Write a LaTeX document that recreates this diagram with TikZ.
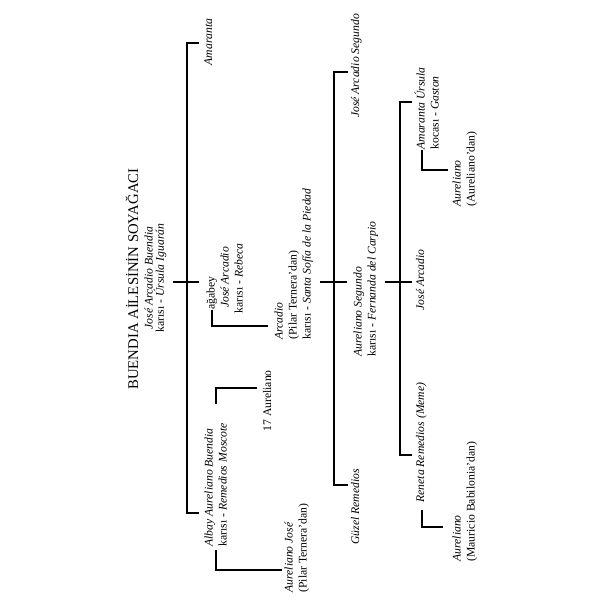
\documentclass[tikz,border=0pt]{standalone}
\usepackage{fontspec}
\setmainfont{Liberation Serif}
\usetikzlibrary{calc,positioning}

\begin{document}
\begin{tikzpicture}[line width=0.75pt,
    person/.style={rotate=90,inner sep=0pt,align=left,font=\fontsize{8.3}{10}\selectfont},
    couple/.style={person,align=center}]
  \useasboundingbox (0,0) rectangle (15,15);
  % titel und eltern
  \node[person,anchor=base,font=\fontsize{10.5}{12}\selectfont] (title) at (3.45,8.025) {BUENDIA AİLESİNİN SOYAĞACI};
  \node[couple,anchor=north] (parents) at (3.6,8.05) {\textit{José Arcadio Buendia}\\[-2pt] karısı - \textit{Úrsula Iguarán}};
  % erste generation
  \node[person,anchor=north] (amaranta) at (5.1,13.95) {\textit{Amaranta}};
  \node[person,anchor=north west] (josearcadio) at (5.15,7.15) {\hspace{3pt}ağabey\\ \hspace{4pt}\textit{José Arcadio}\\ karısı - \textit{Rebeca}};
  \node[person,anchor=north west] (albay) at (5.1,1.325) {\textit{Albay Aureliano Buendia}\\ karısı - \textit{Remedios Moscote}};
  \node[person,anchor=base west] (seventeen) at (6.775,4.2) {17 Aureliano};
  \node[person,anchor=north west] (arcadio) at (6.85,6.5) {\textit{Arcadio}\\ (Pilar Ternera'dan)\\ karısı - \textit{Santa Sofía de la Piedad}};
  \node[person,anchor=north west] (aurjose) at (7.1,0.175) {\textit{Aureliano José}\\ (Pilar Ternera'dan)};
  % zweite generation
  \node[person,anchor=base] (jasegundo) at (8.975,13.35) {\textit{José Arcadio Segundo}};
  \node[person,anchor=north west] (segundo) at (8.825,6.075) {\textit{Aureliano Segundo}\\ karısı - \textit{Fernanda del Carpio}};
  \node[person,anchor=base west] (guzel) at (8.975,1.375) {\textit{Güzel Remedios}};
  % dritte generation
  \node[person,anchor=north west] (amursula) at (10.35,11.25) {\textit{Amaranta Úrsula}\\ kocası - \textit{Gaston}};
  \node[person,anchor=north west] (aurel1) at (11.3,9.825) {\textit{Aureliano}\\ (Aureliano'dan)};
  \node[person,anchor=base] (josearcadio3) at (10.6,8.0) {\textit{José Arcadio}};
  \node[person,anchor=base west] (meme) at (10.6,2.425) {\textit{Reneta Remedios (Meme)}};
  \node[person,anchor=north west] (aurel2) at (11.3,0.95) {\textit{Aureliano}\\ (Mauricio Babilonia'dan)};

  % stammlinien
  \coordinate (s1t) at (4.975,13.925);
  \coordinate (s1b) at (4.975,2.175);
  \coordinate (p1) at (4.325,7.95);
  \draw (s1t) -- ++(-0.3,0) |- (s1b);
  \draw (p1) -- ++(0.65,0);
  \coordinate (s2t) at (8.7,13.2);
  \coordinate (s2b) at (8.7,2.875);
  \coordinate (p2) at (8.0,7.95);
  \draw (s2t) -- ++(-0.35,0) |- (s2b);
  \draw (p2) -- ++(0.675,0);
  \coordinate (s3t) at (10.3,12.45);
  \coordinate (s3b) at (10.3,3.625);
  \coordinate (p3) at (9.625,7.95);
  \draw (s3t) -- ++(-0.3,0) |- (s3b);
  \draw (p3) -- ++(0.675,0);
  % kinder
  \coordinate (c1) at (5.4,4.9);
  \coordinate (c2) at (5.4,1.25);
  \coordinate (c3) at (5.3,7.25);
  \coordinate (c4) at (10.55,11.25);
  \coordinate (c5) at (10.55,2.25);
  \draw (c1) |- (6.425,5.3);
  \draw (c2) |- (7.05,0.75);
  \draw (c3) |- (6.7,6.85);
  \draw (c4) |- (11.2,10.75);
  \draw (c5) |- (11.075,1.825);
\end{tikzpicture}
\end{document}
